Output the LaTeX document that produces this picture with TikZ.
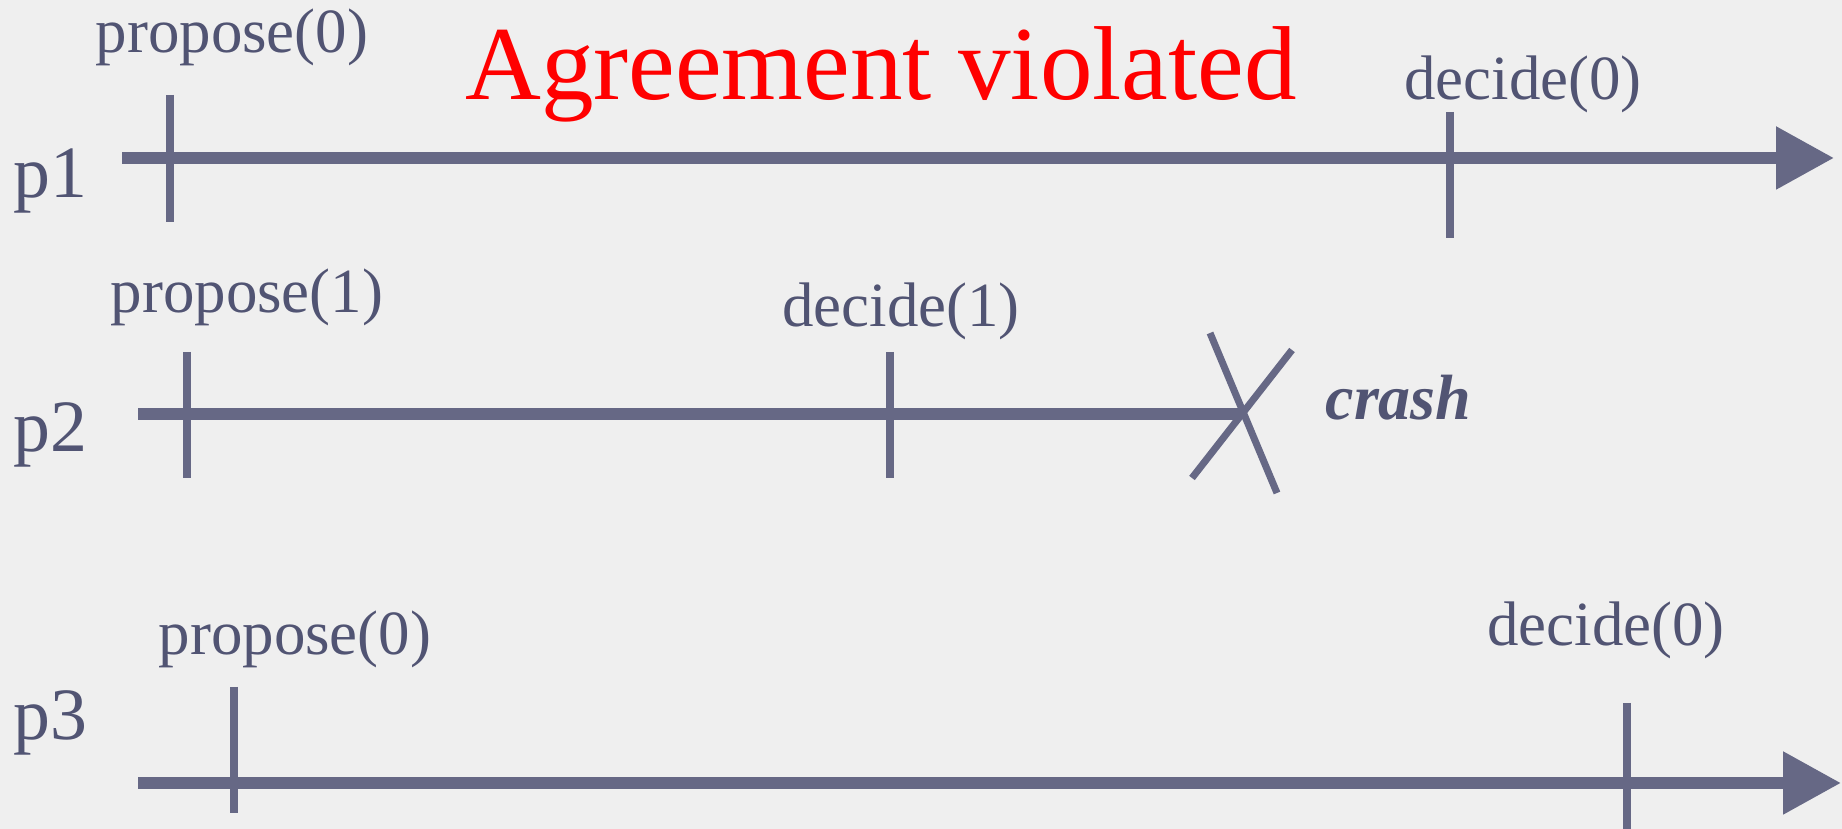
\documentclass[tikz,border=0pt]{standalone}
\usepackage{fontspec}
\setmainfont{Liberation Serif}
\usetikzlibrary{arrows.meta}
\definecolor{bg}{HTML}{EFEFEF}
\definecolor{linec}{HTML}{666885}
\definecolor{txtc}{HTML}{515473}
\begin{document}
\begin{tikzpicture}[x=0.1mm,y=-0.1mm,
  timeline/.style={line width=3.4pt, draw=linec},
  tick/.style={line width=2.0pt, draw=linec},
  tip/.style={-{Triangle[length=5.8mm,width=6.0mm]}},
  lbl/.style={inner sep=0pt, anchor=base, text=txtc, font=\fontsize{17.9pt}{20pt}\selectfont},
  plbl/.style={inner sep=0pt, anchor=base west, text=txtc, font=\fontsize{21pt}{24pt}\selectfont},
  crashlbl/.style={inner sep=0pt, anchor=base west, text=txtc, font=\fontsize{18.2pt}{20pt}\selectfont\bfseries\itshape},
  title/.style={inner sep=0pt, anchor=base, text=red, font=\fontsize{29.9pt}{34pt}\selectfont}
]
\fill[bg] (0,0) rectangle (1842,829);
\useasboundingbox (0,0) rectangle (1842,829);

% coordinates
\coordinate (p1s) at (122,158);
\coordinate (p1e) at (1834,158);
\coordinate (p1at) at (170,95);   \coordinate (p1ab) at (170,222);
\coordinate (p1bt) at (1450,112); \coordinate (p1bb) at (1450,238);

\coordinate (p2s) at (138,414);
\coordinate (p2x) at (1242,414);
\coordinate (p2at) at (187,352);  \coordinate (p2ab) at (187,478);
\coordinate (p2bt) at (890,352);  \coordinate (p2bb) at (890,478);
\coordinate (x1a) at (1210,333);  \coordinate (x1b) at (1277,493);
\coordinate (x2a) at (1292,350);  \coordinate (x2b) at (1192,478);

\coordinate (p3s) at (138,783);
\coordinate (p3e) at (1841,783);
\coordinate (p3at) at (234,687);  \coordinate (p3ab) at (234,813);
\coordinate (p3bt) at (1627,703); \coordinate (p3bb) at (1627,829);

% timelines
\draw[timeline,tip] (p1s) -- (p1e);
\draw[timeline] (p2s) -- (p2x);
\draw[timeline,tip] (p3s) -- (p3e);

% ticks
\draw[tick] (p1at) -- (p1ab);
\draw[tick] (p1bt) -- (p1bb);
\draw[tick] (p2at) -- (p2ab);
\draw[tick] (p2bt) -- (p2bb);
\draw[tick] (p3at) -- (p3ab);
\draw[tick] (p3bt) -- (p3bb);
\draw[tick] (x1a) -- (x1b);
\draw[tick] (x2a) -- (x2b);

% labels
\node[plbl] (l1) at (13,198) {p1};
\node[plbl] (l2) at (13,452) {p2};
\node[plbl] (l3) at (13,740) {p3};

\node[lbl] (t1) at (232,53) {propose(0)};
\node[title] (ttl) at (881,100) {Agreement violated};
\node[lbl] (t2) at (1523,100) {decide(0)};

\node[lbl] (t3) at (247,313) {propose(1)};
\node[lbl] (t4) at (901,327) {decide(1)};
\node[crashlbl] (cr) at (1325,420) {crash};

\node[lbl] (t5) at (295,655) {propose(0)};
\node[lbl] (t6) at (1606,646) {decide(0)};
\end{tikzpicture}
\end{document}
